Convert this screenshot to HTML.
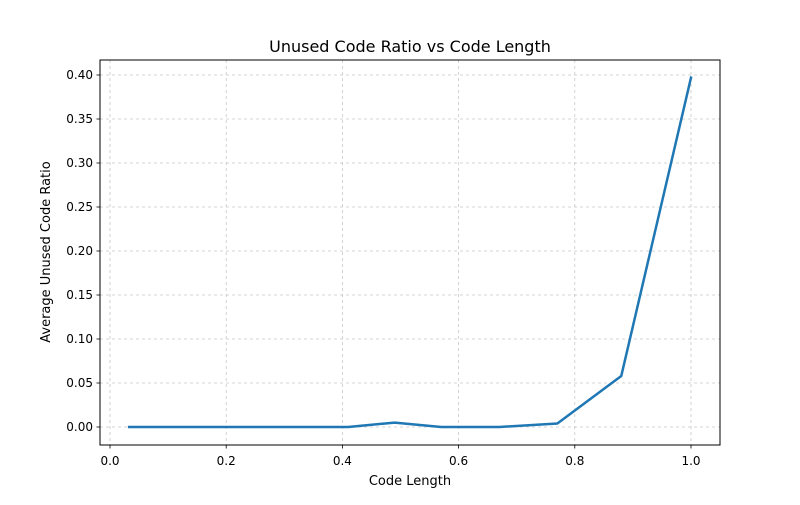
<!DOCTYPE html>
<html><head><meta charset="utf-8"><style>
body{margin:0;background:#fff;}
svg text{font-family:"DejaVu Sans","Liberation Sans",sans-serif;fill:#000;}
</style></head><body>
<svg id="chart" width="800" height="500" xmlns="http://www.w3.org/2000/svg">
<rect width="800" height="500" fill="#fff"/>
<g id="grid"></g>
<g id="series"></g>
<rect x="100" y="60" width="620" height="385" fill="none" stroke="#000" stroke-width="1"/>
<g id="ticks"></g>
<text x="410" y="52" font-size="16" text-anchor="middle">Unused Code Ratio vs Code Length</text>
<text x="410" y="485" font-size="13" text-anchor="middle">Code Length</text>
<text x="0" y="0" font-size="13" text-anchor="middle" transform="translate(50,252) rotate(-90)">Average Unused Code Ratio</text>
</svg>
<script>
const xValues=[0.033,0.41,0.49,0.57,0.67,0.77,0.88,1.0];
const yValues=[0,0,0.005,0,0,0.004,0.058,0.397];
const xTicks=[0,0.2,0.4,0.6,0.8,1.0];
const xTickLabels=["0.0","0.2","0.4","0.6","0.8","1.0"];
const yTicks=[0,0.05,0.1,0.15,0.2,0.25,0.3,0.35,0.4];
const yTickLabels=["0.00","0.05","0.10","0.15","0.20","0.25","0.30","0.35","0.40"];
const NS="http://www.w3.org/2000/svg";
const sx=v=>110+v*581, sy=v=>427-v*880;
function mk(t,a,p){const e=document.createElementNS(NS,t);for(const k in a)e.setAttribute(k,a[k]);p.appendChild(e);return e;}
const grid=document.getElementById('grid'),ticks=document.getElementById('ticks'),series=document.getElementById('series');
xTicks.forEach((v,i)=>{const x=sx(v);
 let g=mk('line',{x1:x,x2:x,y1:60,y2:445,stroke:'#b0b0b0','stroke-width':0.8,'stroke-dasharray':'3,3',opacity:0.7},grid);
 
 let t=mk('line',{x1:x,x2:x,y1:445,y2:448.5,stroke:'#000','stroke-width':0.8},ticks);
 
 let l=mk('text',{x:x,y:465,'font-size':12,'text-anchor':'middle'},ticks);l.textContent=xTickLabels[i];
 });
yTicks.forEach((v,i)=>{const y=sy(v);
 let g=mk('line',{x1:100,x2:720,y1:y,y2:y,stroke:'#b0b0b0','stroke-width':0.8,'stroke-dasharray':'3,3',opacity:0.7},grid);
 
 let t=mk('line',{x1:96.5,x2:100,y1:y,y2:y,stroke:'#000','stroke-width':0.8},ticks);
 
 let l=mk('text',{x:93,y:y+4,'font-size':12,'text-anchor':'end'},ticks);l.textContent=yTickLabels[i];
 });
const pts=xValues.map((v,i)=>sx(v)+','+sy(yValues[i])).join(' ');
const pl=mk('polyline',{points:pts,fill:'none',stroke:'#1f77b4','stroke-width':2.5,'stroke-linejoin':'round','stroke-linecap':'square'},series);


</script>
</body></html>
